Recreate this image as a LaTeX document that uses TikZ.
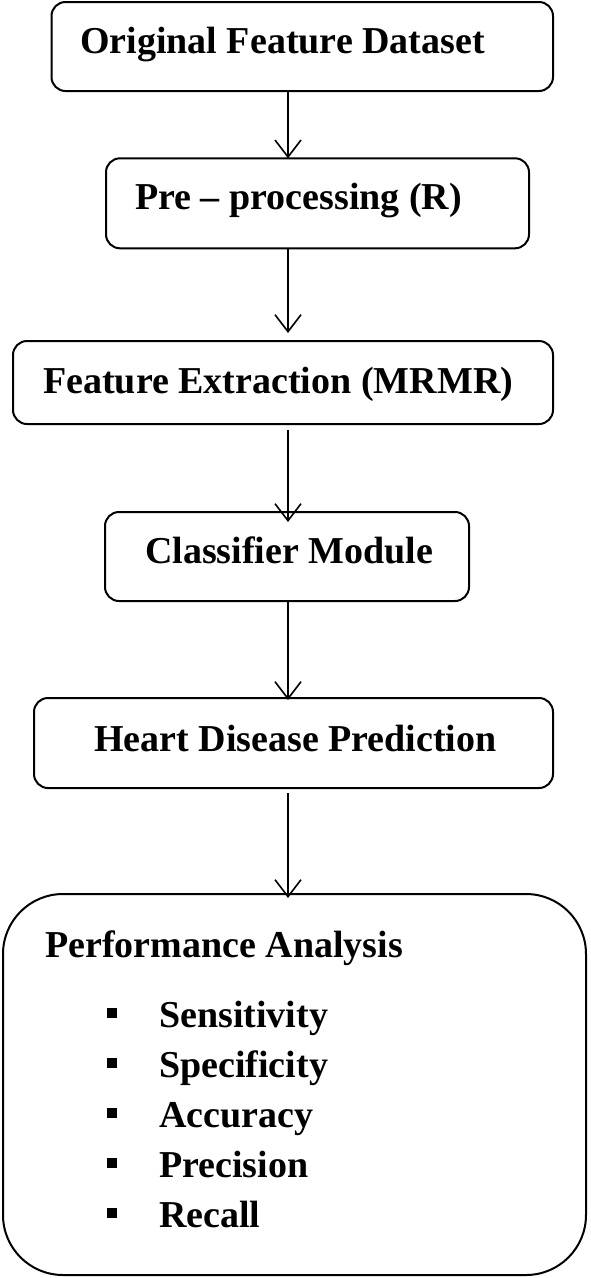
\documentclass[tikz,border=0pt]{standalone}
\usepackage{fontspec}
\setmainfont{Liberation Serif}
\usetikzlibrary{arrows.meta}
\begin{document}
\begin{tikzpicture}[x=1pt,y=-1pt,
  box/.style={draw, line width=2pt, rounded corners=14pt, inner sep=0pt, outer sep=0pt},
  bigbox/.style={draw, line width=2pt, rounded corners=60pt, inner sep=0pt, outer sep=0pt},
  txt/.style={anchor=base west, inner sep=0pt, font=\fontsize{38}{45}\selectfont\bfseries},
  bul/.style={fill=black, minimum size=10pt, inner sep=0pt},
  arr/.style={line width=1.6pt, -{Straight Barb[length=17pt,width=26pt,line width=1.6pt]}}]
\useasboundingbox (0,0) rectangle (590,1278);
\node[box, minimum width=501.5pt, minimum height=89pt] (b1) at (302.25,46.5) {};
\node[box, minimum width=423pt, minimum height=90pt] (b2) at (317.5,203.3) {};
\node[box, minimum width=540pt, minimum height=83pt] (b3) at (283,382.5) {};
\node[box, minimum width=364pt, minimum height=89pt] (b4) at (287,556.5) {};
\node[box, minimum width=519pt, minimum height=90pt] (b5) at (293.5,743) {};
\node[bigbox, minimum width=583pt, minimum height=381pt] (b6) at (294.5,1084.5) {};
\coordinate (ax) at (288,0);
\node[txt] (t1) at (80,53) {Original Feature Dataset};
\node[txt] (t2) at (135,209) {Pre – processing (R)};
\node[txt] (t3) at (43,393) {Feature Extraction (MRMR)};
\node[txt] (t4) at (145,563) {Classifier Module};
\node[txt] (t5) at (94,751) {Heart Disease Prediction};
\node[txt] (t6) at (45,957) {Performance Analysis};
\node[txt] (i1) at (159,1027) {Sensitivity};
\node[txt] (i2) at (159,1077) {Specificity};
\node[txt] (i3) at (159,1127) {Accuracy};
\node[txt] (i4) at (159,1177) {Precision};
\node[txt] (i5) at (159,1227) {Recall};
\node[bul] (p1) at (112,1013) {};
\node[bul] (p2) at (112,1063) {};
\node[bul] (p3) at (112,1113) {};
\node[bul] (p4) at (112,1163) {};
\node[bul] (p5) at (112,1213) {};
\draw[arr] (b1.south -| ax) -- (b2.north -| ax);
\draw[arr, shorten >=8pt] (b2.south -| ax) -- (b3.north -| ax);
\draw[arr, shorten <=6pt, shorten >=-10pt] (b3.south -| ax) -- (b4.north -| ax);
\draw[arr, shorten >=-2pt] (b4.south -| ax) -- (b5.north -| ax);
\draw[arr, shorten <=5pt, shorten >=-4pt] (b5.south -| ax) -- (b6.north -| ax);
\end{tikzpicture}
\end{document}
